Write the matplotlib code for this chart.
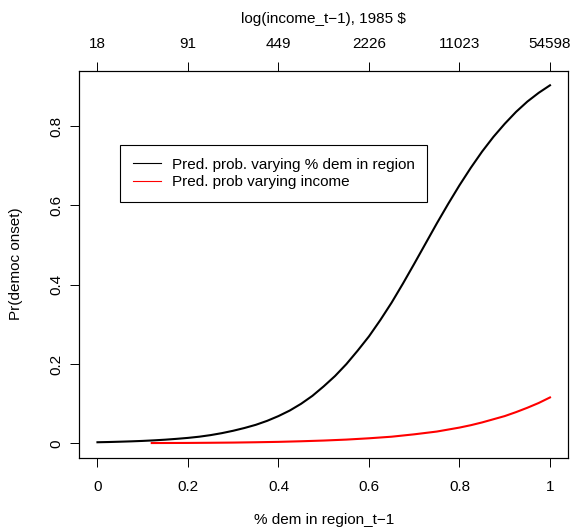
#democ_onset.py
#Predicted probability of democratic onset, two predictors
import matplotlib.pyplot as plt
from matplotlib.lines import Line2D

plt.rcParams['font.family'] = ['Liberation Sans', 'DejaVu Sans']

#Values
dem_x = [0.0, 0.025, 0.05, 0.075, 0.1, 0.125, 0.15, 0.175, 0.2, 0.225, 0.25,
         0.275, 0.3, 0.325, 0.35, 0.375, 0.4, 0.425, 0.45, 0.475, 0.5, 0.525,
         0.55, 0.575, 0.6, 0.625, 0.65, 0.675, 0.7, 0.725, 0.75, 0.775, 0.8,
         0.825, 0.85, 0.875, 0.9, 0.925, 0.95, 0.975, 1.0]
dem_y = [0.003, 0.0036, 0.0044, 0.0053, 0.0064, 0.0078, 0.0095, 0.0116, 0.014,
         0.017, 0.021, 0.026, 0.032, 0.039, 0.047, 0.057, 0.069, 0.083, 0.100,
         0.120, 0.144, 0.170, 0.200, 0.234, 0.270, 0.311, 0.355, 0.403, 0.453,
         0.504, 0.555, 0.604, 0.651, 0.695, 0.736, 0.773, 0.806, 0.836, 0.862,
         0.884, 0.903]
inc_x = [0.12, 0.2, 0.25, 0.3, 0.35, 0.4, 0.45, 0.5, 0.55, 0.6, 0.65, 0.7,
         0.75, 0.775, 0.8, 0.825, 0.85, 0.875, 0.9, 0.925, 0.95, 0.975, 1.0]
inc_y = [0.001, 0.0013, 0.0017, 0.0022, 0.003, 0.004, 0.0055, 0.0073, 0.0097,
         0.013, 0.017, 0.023, 0.030, 0.035, 0.040, 0.046, 0.053, 0.061, 0.069,
         0.079, 0.090, 0.102, 0.116]

x_ticks = [0, 0.2, 0.4, 0.6, 0.8, 1]
x_labels = ['0', '0.2', '0.4', '0.6', '0.8', '1']
y_ticks = [0, 0.2, 0.4, 0.6, 0.8]
y_labels = ['0', '0.2', '0.4', '0.6', '0.8']
income_labels = ['18', '91', '449', '2226', '11023', '54598']
legend_labels = ['Pred. prob. varying % dem in region', 'Pred. prob varying income']

fs = 11
fig = plt.figure(figsize=(5.75, 5.31), dpi=100)
ax = fig.add_axes([0.138, 0.138, 0.850, 0.729])

ax.plot(dem_x, dem_y, color='black', lw=1.5)
ax.plot(inc_x, inc_y, color='red', lw=1.5)

ax.set_xlim(-0.04, 1.04)
ax.set_ylim(-0.036, 0.94)
ax.set_xticks(x_ticks)
ax.set_xticklabels(x_labels)
ax.set_yticks(y_ticks)
ax.set_yticklabels(y_labels, rotation=90, va='center')
ax.tick_params(direction='out', length=6.5, width=0.7, labelsize=fs)
ax.tick_params(axis='x', pad=9.5)
ax.tick_params(axis='y', pad=5)
for s in ax.spines.values():
    s.set_linewidth(0.8)
ax.set_xlabel('% dem in region_t\u22121', fontsize=fs, labelpad=14)
ax.set_ylabel('Pr(democ onset)', fontsize=fs, labelpad=19)

#top axis for income
top = ax.twiny()
top.set_xlim(ax.get_xlim())
top.set_xticks(x_ticks)
top.set_xticklabels(income_labels)
top.tick_params(direction='out', length=6.5, width=0.7, labelsize=fs, pad=7.5)
top.set_xlabel('log(income_t\u22121), 1985 $', fontsize=fs, labelpad=10.5)

handles = [Line2D([], [], color='black', lw=0.8), Line2D([], [], color='red', lw=0.8)]
leg = ax.legend(handles, legend_labels, loc='upper left', bbox_to_anchor=(0.084, 0.807),
                borderaxespad=0, fancybox=False, edgecolor='black', framealpha=1,
                fontsize=fs, handlelength=1.85, handletextpad=0.75, borderpad=0.8,
                labelspacing=0.25)
leg.get_frame().set_linewidth(0.8)

fig.savefig('out.png', dpi=100)
